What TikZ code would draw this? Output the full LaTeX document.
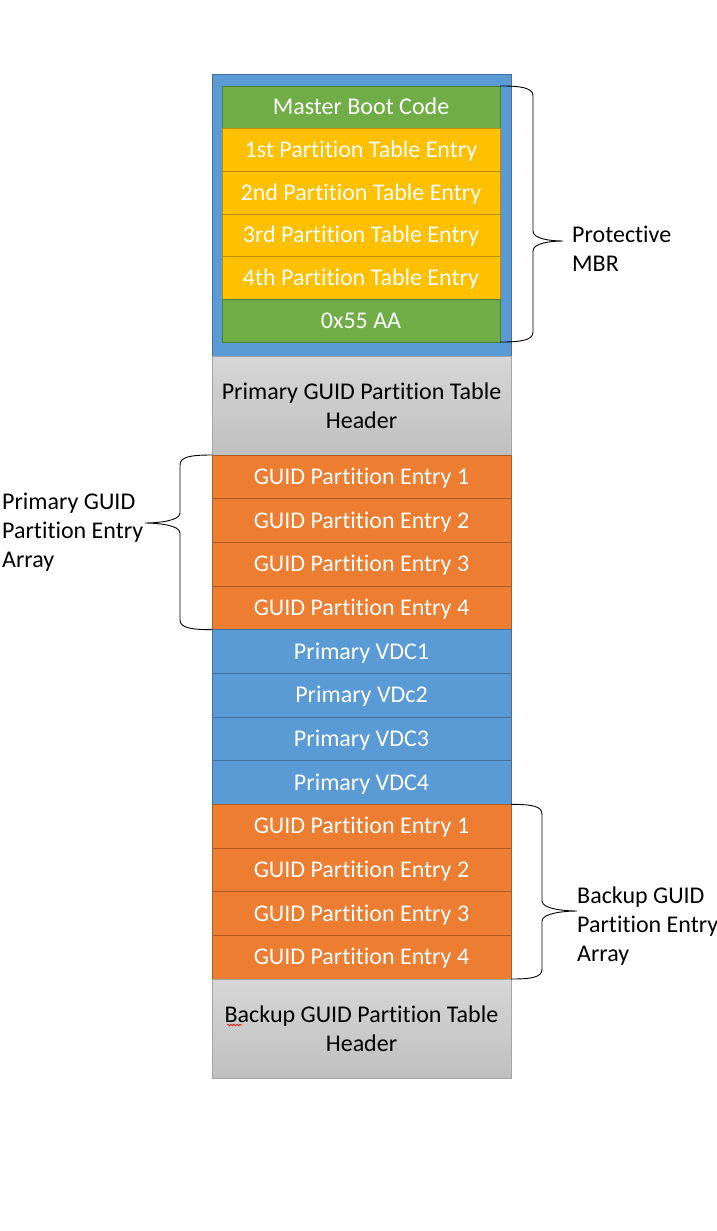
\documentclass[tikz,border=0pt]{standalone}
\usepackage{fontspec}
\setmainfont{Carlito}[Ligatures=NoCommon]
\usetikzlibrary{calc,decorations.pathmorphing}
\definecolor{mblue}{HTML}{5B9BD5}
\definecolor{mbluedk}{HTML}{41719C}
\definecolor{mgreen}{HTML}{70AD47}
\definecolor{mgreendk}{HTML}{507E32}
\definecolor{mgold}{HTML}{FFC000}
\definecolor{mgolddk}{HTML}{BC8C00}
\definecolor{morange}{HTML}{ED7D31}
\definecolor{morangedk}{HTML}{AE5A21}
\definecolor{mgraydk}{HTML}{A5A5A5}
\begin{document}
\begin{tikzpicture}[x=1pt,y=-1pt,
  txt/.style={font=\fontsize{24}{29.3}\selectfont},
  inner/.style={txt,minimum width=278pt,minimum height=42.67pt,inner sep=0pt,outer sep=0pt,text=white,line width=0.8pt,text height=15.5pt,text depth=0.5pt},
  full/.style={txt,minimum width=299pt,minimum height=43.67pt,inner sep=0pt,outer sep=0pt,text=white,line width=0.8pt,text height=15.5pt,text depth=0.5pt},
  greencell/.style={inner,fill=mgreen,draw=mgreendk},
  goldcell/.style={inner,fill=mgold,draw=mgolddk},
  orangecell/.style={full,fill=morange,draw=morangedk},
  bluecell/.style={full,fill=mblue,draw=mbluedk},
  headcell/.style={txt,minimum width=299pt,minimum height=99pt,inner sep=0pt,outer sep=0pt,text=black,align=center,
     top color=black!16,bottom color=black!25,draw=mgraydk,line width=0.8pt},
  label/.style={txt,align=left,anchor=west,inner sep=0pt},
  brc/.style={draw=black,line width=0.9pt}
]
\useasboundingbox (0,0) rectangle (716,1231);
\fill[white] (0,0) rectangle (716,1231);

% Protective MBR
\node[fill=mblue,draw=mbluedk,line width=0.8pt,minimum width=299pt,minimum height=282pt,inner sep=0pt] (mbr) at (361.5,215) {};
\node[greencell] (mbc) at (361,107.3) {Master Boot Code};
\node[goldcell] (pt1) at (361,150) {1st Partition Table Entry};
\node[goldcell] (pt2) at (361,192.7) {2nd Partition Table Entry};
\node[goldcell] (pt3) at (361,235.3) {3rd Partition Table Entry};
\node[goldcell] (pt4) at (361,278) {4th Partition Table Entry};
\node[greencell] (sig) at (361,320.7) {0x55 AA};

% Primary header
\node[headcell] (ph) at (361.5,405.5) {Primary GUID Partition Table\\Header};

% Primary entries
\node[orangecell] (pe1) at (361.5,476.83) {GUID Partition Entry 1};
\node[orangecell] (pe2) at (361.5,520.5) {GUID Partition Entry 2};
\node[orangecell] (pe3) at (361.5,564.17) {GUID Partition Entry 3};
\node[orangecell] (pe4) at (361.5,607.83) {GUID Partition Entry 4};

% VDCs
\node[bluecell] (v1) at (361.5,651.5) {Primary VDC1};
\node[bluecell] (v2) at (361.5,695.17) {Primary VDc2};
\node[bluecell] (v3) at (361.5,738.83) {Primary VDC3};
\node[bluecell] (v4) at (361.5,782.5) {Primary VDC4};

% Backup entries
\node[orangecell] (be1) at (361.5,826.17) {GUID Partition Entry 1};
\node[orangecell] (be2) at (361.5,869.83) {GUID Partition Entry 2};
\node[orangecell] (be3) at (361.5,913.5) {GUID Partition Entry 3};
\node[orangecell] (be4) at (361.5,957.17) {GUID Partition Entry 4};

% Backup header
\node[headcell] (bh) at (361.5,1028.5) {Backup GUID Partition Table\\Header};

% spell-check squiggle under "Bac"
\coordinate (sqa) at (227,1025);
\coordinate (sqb) at (242,1025);
\draw[red,line width=0.6pt,decorate,decoration={snake,amplitude=0.9pt,segment length=3pt}] (sqa) -- (sqb);

% brace tips
\coordinate (tipA) at (563,241);
\coordinate (tipB) at (145,523);
\coordinate (tipC) at (577,911);

% Protective MBR brace
\draw[brc] (mbc.north east) .. controls +(22,0) and +(0,-8) .. ++(33,10)
  -- ($(tipA)+(-30,-10)$) .. controls +(0,8) and +(-12,0) .. (tipA)
  .. controls +(-12,0) and +(0,-8) .. ++(-30,10)
  -- ($(sig.south east)+(33,-10)$) .. controls +(0,8) and +(22,0) .. (sig.south east);

% Primary entry array brace (left)
\draw[brc] (pe1.north west) .. controls +(-22,0) and +(0,-8) .. ++(-32,10)
  -- ($(tipB)+(35,-10)$) .. controls +(0,8) and +(12,0) .. (tipB)
  .. controls +(12,0) and +(0,-8) .. ++(35,10)
  -- ($(pe4.south west)+(-32,-10)$) .. controls +(0,8) and +(-22,0) .. (pe4.south west);

% Backup entry array brace
\draw[brc] (be1.north east) .. controls +(22,0) and +(0,-8) .. ++(31,10)
  -- ($(tipC)+(-35,-10)$) .. controls +(0,8) and +(-12,0) .. (tipC)
  .. controls +(-12,0) and +(0,-8) .. ++(-35,10)
  -- ($(be4.south east)+(31,-10)$) .. controls +(0,8) and +(22,0) .. (be4.south east);

% Labels
\node[label] (lmbr) at (572,249) {Protective\\MBR};
\node[label] (lpri) at (2,532) {Primary GUID\\Partition Entry\\Array};
\node[label] (lbak) at (577,926) {Backup GUID\\Partition Entry\\Array};
\end{tikzpicture}
\end{document}
